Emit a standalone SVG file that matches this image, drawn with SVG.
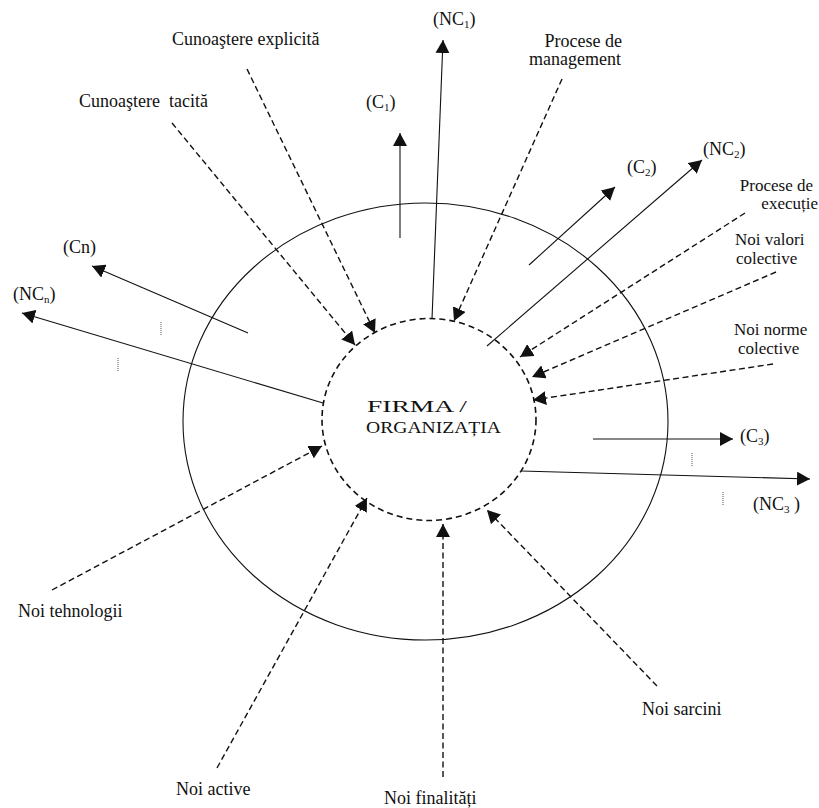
<svg xmlns="http://www.w3.org/2000/svg" width="819" height="808" viewBox="0 0 819 808">
<style>
text{font-family:"Liberation Serif","Times New Roman",serif;font-size:18px;fill:#111}
.sub{font-size:11px}
.tight{font-size:17px}
.solid{stroke:#111;stroke-width:1.1;fill:none}
.dash{stroke:#111;stroke-width:1.4;fill:none;stroke-dasharray:6 3.5}
.dots{stroke:#555;stroke-width:1;stroke-dasharray:1 1}
.ctr{font-size:17px}
</style>
<defs>
<marker id="ah" markerUnits="userSpaceOnUse" markerWidth="14" markerHeight="14" refX="13" refY="7" orient="auto">
<path d="M0,0 L13,7 L0,14 z" fill="#111"/>
</marker>
</defs>
<rect width="819" height="808" fill="#fff"/>
<g id="outer">
<ellipse cx="425.5" cy="421.5" rx="242.5" ry="218.5" class="solid"/>
</g>
<g id="firma">
<ellipse cx="429" cy="419.5" rx="107" ry="101" fill="none" stroke="#111" stroke-width="1.6" stroke-dasharray="6 4"/>
<text class="ctr" x="367" y="412" textLength="100" lengthAdjust="spacingAndGlyphs">FIRMA /</text>
<text class="ctr" x="366" y="433" textLength="135" lengthAdjust="spacingAndGlyphs">ORGANIZAȚIA</text>
</g>
<g id="connectors">
<line class="dash" x1="247" y1="69" x2="375" y2="333" marker-end="url(#ah)"/>
<line class="dash" x1="172" y1="123" x2="355" y2="345" marker-end="url(#ah)"/>
<line class="dash" x1="562" y1="79" x2="454" y2="321" marker-end="url(#ah)"/>
<line class="dash" x1="745" y1="213" x2="520" y2="357" marker-end="url(#ah)"/>
<line class="dash" x1="776" y1="272" x2="532" y2="377" marker-end="url(#ah)"/>
<line class="dash" x1="773" y1="364" x2="533" y2="400" marker-end="url(#ah)"/>
<line class="dash" x1="52" y1="590" x2="322" y2="446" marker-end="url(#ah)"/>
<line class="dash" x1="217" y1="768" x2="367" y2="498" marker-end="url(#ah)"/>
<line class="dash" x1="443" y1="777" x2="443" y2="524" marker-end="url(#ah)"/>
<line class="dash" x1="657" y1="686" x2="487" y2="510" marker-end="url(#ah)"/>
<line class="solid" x1="400" y1="238" x2="400" y2="133" marker-end="url(#ah)"/>
<line class="solid" x1="432" y1="319" x2="443" y2="40" marker-end="url(#ah)"/>
<line class="solid" x1="529" y1="265" x2="615" y2="187" marker-end="url(#ah)"/>
<line class="solid" x1="487" y1="346" x2="702" y2="160" marker-end="url(#ah)"/>
<line class="solid" x1="593" y1="439" x2="733" y2="439" marker-end="url(#ah)"/>
<line class="solid" x1="521" y1="471" x2="810" y2="479" marker-end="url(#ah)"/>
<line class="solid" x1="248" y1="333" x2="92" y2="266" marker-end="url(#ah)"/>
<line class="solid" x1="323" y1="403" x2="22" y2="313" marker-end="url(#ah)"/>
<line class="dots" x1="161" y1="322" x2="161" y2="335"/>
<line class="dots" x1="118" y1="358" x2="118" y2="372"/>
<line class="dots" x1="692" y1="453" x2="692" y2="466"/>
<line class="dots" x1="723" y1="492" x2="723" y2="505"/>
</g>
<g id="cunoastere-explicita"><text x="172" y="45">Cunoaştere explicită</text></g>
<g id="cunoastere-tacita"><text x="79" y="107" xml:space="preserve">Cunoaştere  tacită</text></g>
<g id="c1"><text x="366" y="108">(C<tspan class="sub" dy="3">1</tspan><tspan dy="-3">)</tspan></text></g>
<g id="nc1"><text x="433" y="25">(NC<tspan class="sub" dy="3">1</tspan><tspan dy="-3">)</tspan></text></g>
<g id="procese-management"><text x="622" y="47" text-anchor="end">Procese de</text><text x="621" y="65" text-anchor="end">management</text></g>
<g id="c2"><text x="627" y="173">(C<tspan class="sub" dy="3">2</tspan><tspan dy="-3">)</tspan></text></g>
<g id="nc2"><text x="703" y="155">(NC<tspan class="sub" dy="3">2</tspan><tspan dy="-3">)</tspan></text></g>
<g id="procese-executie"><text class="tight" x="813" y="191" text-anchor="end">Procese de</text><text class="tight" x="818" y="209" text-anchor="end">execuție</text></g>
<g id="noi-valori"><text class="tight" x="735" y="245">Noi valori</text><text class="tight" x="736" y="264">colective</text></g>
<g id="noi-norme"><text class="tight" x="734" y="335">Noi norme</text><text class="tight" x="738" y="354">colective</text></g>
<g id="c3"><text x="740" y="442">(C<tspan class="sub" dy="3">3</tspan><tspan dy="-3">)</tspan></text></g>
<g id="nc3"><text x="753" y="510" xml:space="preserve">(NC<tspan class="sub" dy="3">3</tspan><tspan dy="-3"> )</tspan></text></g>
<g id="cn"><text x="63" y="253">(Cn)</text></g>
<g id="ncn"><text x="13" y="300">(NC<tspan class="sub" dy="3">n</tspan><tspan dy="-3">)</tspan></text></g>
<g id="noi-tehnologii"><text x="18" y="617">Noi tehnologii</text></g>
<g id="noi-active"><text x="176" y="795">Noi active</text></g>
<g id="noi-finalitati"><text x="384" y="804">Noi finalități</text></g>
<g id="noi-sarcini"><text x="642" y="715">Noi sarcini</text></g>
</svg>
